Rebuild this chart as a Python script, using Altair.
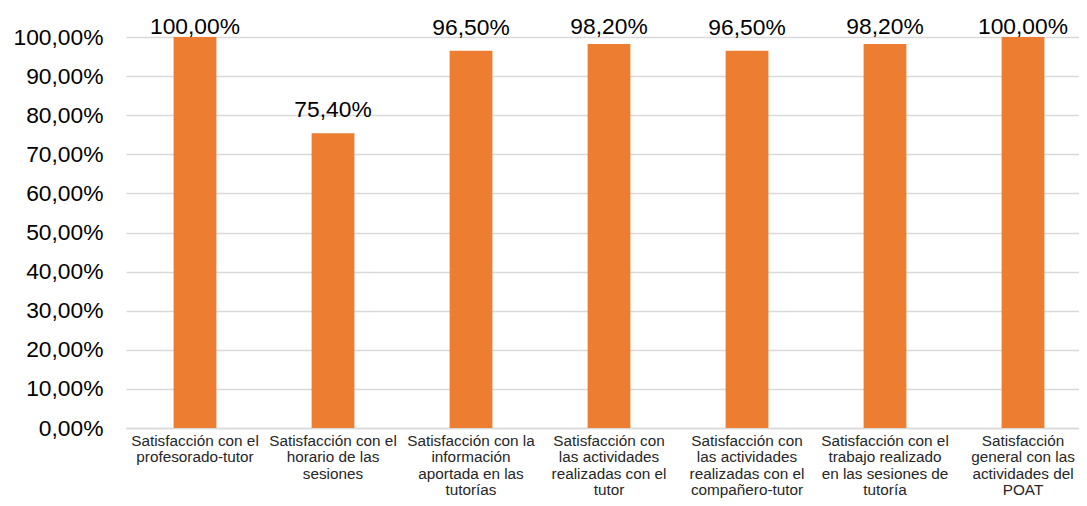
import altair as alt
import pandas as pd

categories = [
    "Satisfacción con el|profesorado-tutor",
    "Satisfacción con el|horario de las|sesiones",
    "Satisfacción con la|información|aportada en las|tutorías",
    "Satisfacción con|las actividades|realizadas con el|tutor",
    "Satisfacción con|las actividades|realizadas con el|compañero-tutor",
    "Satisfacción con el|trabajo realizado|en las sesiones de|tutoría",
    "Satisfacción|general con las|actividades del|POAT",
]
values = [100.0, 75.4, 96.5, 98.2, 96.5, 98.2, 100.0]
y_ticks = list(range(0, 101, 10))

df = pd.DataFrame({"cat": categories, "v": values})

FONT = "Liberation Sans"

x = alt.X(
    "cat:N",
    sort=None,
    title=None,
    scale=alt.Scale(paddingInner=0.69, paddingOuter=0.345, range=[0, 966]),
    axis=alt.Axis(
        labelExpr="split(datum.label, '|')",
        labelAngle=0,
        labelBaseline="top",
        labelLineHeight=16.5,
        labelFontSize=15.3,
        labelFont=FONT,
        labelColor="#262626",
        labelPadding=5,
        labelOverlap=False,
        ticks=False,
        tickSize=0,
        domainColor="#D9D9D9",
        domainWidth=1.3,
        grid=False,
        labelLimit=300,
    ),
)

yscale = alt.Scale(domain=[0, 100], nice=False)
yaxis = alt.Axis(
    values=y_ticks,
    labelExpr="replace(format(datum.value, '.2f'), '.', ',') + '%'",
    labelFontSize=22.8,
    labelFont=FONT,
    labelColor="#000000",
    labelPadding=23,
    labelOverlap=False,
    ticks=False,
    tickSize=0,
    domain=False,
    gridColor="#D9D9D9",
    gridWidth=1.3,
)

base = alt.Chart(df).encode(x=x)

bars = base.mark_bar(color="#ED7D31").encode(
    y=alt.Y("v:Q", title=None, scale=yscale, axis=yaxis)
)

labels = base.transform_calculate(
    pos="min(datum.v + 4.1, 100.8)",
    txt="replace(format(datum.v, '.2f'), '.', ',') + '%'",
).mark_text(
    font=FONT, fontSize=22.8, color="#000000", baseline="alphabetic", align="center"
).encode(
    y=alt.Y("pos:Q", title=None, scale=yscale, axis=yaxis),
    text="txt:N",
)

chart = (
    (bars + labels)
    .properties(
        width=953,
        height=391,
        autosize=alt.AutoSizeParams(type="none"),
        padding={"left": 118, "top": 29, "right": 0, "bottom": 70},
    )
    .configure_view(stroke=None)
)

chart.save("out.html", embed_options={"renderer": "svg", "actions": False})
